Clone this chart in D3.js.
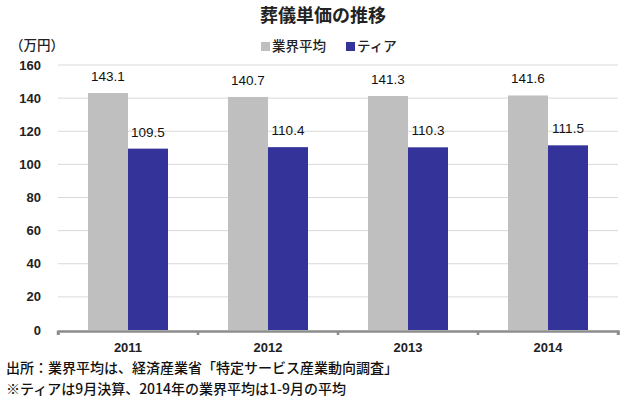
<!DOCTYPE html>
<html>
<head>
<meta charset="utf-8">
<script src="https://cdn.jsdelivr.net/npm/d3@7"></script>
<style>
  body { margin: 0; background: #fff; }
  svg { display: block; }
  .jp { font-family: "Noto Sans CJK JP", sans-serif; }
  .num { font-family: "Liberation Sans", Arial, sans-serif; }
</style>
</head>
<body>
<script>
const years = ['2011', '2012', '2013', '2014']
const seriesNames = ['業界平均', 'ティア']
const industryAvg = [143.1, 140.7, 141.3, 141.6]
const tier = [109.5, 110.4, 110.3, 111.5]
const yTicks = [0, 20, 40, 60, 80, 100, 120, 140, 160]
const colors = ['#bfbfbf', '#333399']

const width = 624
const height = 399
const margin = { top: 65, right: 6, bottom: 69, left: 58 }
const plotW = width - margin.left - margin.right
const plotH = height - margin.top - margin.bottom

const svg = d3.select('body').append('svg')
  .attr('width', width)
  .attr('height', height)

const g = svg.append('g')
  .attr('transform', 'translate(' + margin.left + ',' + margin.top + ')')

const x = d3.scaleBand().domain(years).range([0, plotW]).paddingInner(0).paddingOuter(0)
const inner = d3.scaleBand().domain(seriesNames).range([30, x.bandwidth() - 30])
const y = d3.scaleLinear().domain([0, 160]).range([plotH, 0])

// gridlines
g.append('g')
  .selectAll('line')
  .data(yTicks.filter(d => d > 0))
  .enter()
  .append('line')
  .attr('x1', 0)
  .attr('x2', plotW)
  .attr('y1', d => y(d))
  .attr('y2', d => y(d))
  .attr('stroke', '#d9d9d9')
  .attr('stroke-width', 1)

// y tick labels
g.append('g')
  .selectAll('text')
  .data(yTicks)
  .enter()
  .append('text')
  .attr('class', 'num')
  .attr('x', -17)
  .attr('y', d => y(d))
  .attr('dy', '0.35em')
  .attr('text-anchor', 'end')
  .attr('font-size', 13)
  .attr('font-weight', 'bold')
  .attr('fill', '#222')
  .text(d => d)

const data = years.map((yr, i) => ({ year: yr, values: [industryAvg[i], tier[i]] }))

const groups = g.selectAll('.grp')
  .data(data)
  .enter()
  .append('g')
  .attr('class', 'grp')
  .attr('transform', d => 'translate(' + x(d.year) + ',0)')

groups.selectAll('rect')
  .data(d => d.values.map((v, j) => ({ name: seriesNames[j], v: v, j: j })))
  .enter()
  .append('rect')
  .attr('x', d => inner(d.name))
  .attr('width', inner.bandwidth())
  .attr('y', d => y(d.v))
  .attr('height', d => plotH - y(d.v))
  .attr('fill', d => colors[d.j])

groups.selectAll('text.val')
  .data(d => d.values.map((v, j) => ({ name: seriesNames[j], v: v, j: j })))
  .enter()
  .append('text')
  .attr('class', 'val num')
  .attr('x', d => inner(d.name) + inner.bandwidth() / 2)
  .attr('y', d => y(d.v) - 12)
  .attr('text-anchor', 'middle')
  .attr('font-size', 13.5)
  .attr('fill', '#111')
  .text(d => d.v.toFixed(1))

// x axis
const axisX = d3.axisBottom(x).tickSize(4).tickSizeOuter(4)
const ax = g.append('g')
  .attr('transform', 'translate(0,' + (plotH + 1) + ')')
  .call(axisX)
ax.select('.domain').attr('stroke', '#8c8c8c').attr('stroke-width', 2.5)
ax.selectAll('.tick line').remove()
ax.selectAll('.tick text').remove()
ax.selectAll('.edge')
  .data(x.domain().map(d => x(d)).concat([plotW]))
  .enter()
  .append('line')
  .attr('x1', d => d)
  .attr('x2', d => d)
  .attr('y1', 0)
  .attr('y2', 4)
  .attr('stroke', '#8c8c8c')
  .attr('stroke-width', 2.5)
ax.selectAll('.yr')
  .data(years)
  .enter()
  .append('text')
  .attr('class', 'num')
  .attr('x', d => x(d) + x.bandwidth() / 2)
  .attr('y', 16)
  .attr('dy', '0.35em')
  .attr('text-anchor', 'middle')
  .attr('font-size', 13)
  .attr('font-weight', 'bold')
  .attr('fill', '#222')
  .text(d => d)

// title
svg.append('text')
  .attr('class', 'jp')
  .attr('x', 323)
  .attr('y', 16)
  .attr('dy', '0.35em')
  .attr('text-anchor', 'middle')
  .attr('font-size', 18)
  .attr('font-weight', 'bold')
  .attr('fill', '#222')
  .text('葬儀単価の推移')

// unit
svg.append('text')
  .attr('class', 'jp')
  .attr('x', 10)
  .attr('y', 45)
  .attr('dy', '0.35em')
  .attr('font-size', 13.5)
  .attr('font-weight', 500)
  .attr('fill', '#222')
  .text('（万円）')

// legend
const legendX = [261, 346]
const legend = svg.selectAll('.leg')
  .data(seriesNames)
  .enter()
  .append('g')
  .attr('class', 'leg')
  .attr('transform', (d, i) => 'translate(' + legendX[i] + ',46)')
legend.append('rect')
  .attr('x', 0)
  .attr('y', -4)
  .attr('width', 9)
  .attr('height', 9)
  .attr('fill', (d, i) => colors[i])
legend.append('text')
  .attr('class', 'jp')
  .attr('x', 11)
  .attr('dy', '0.35em')
  .attr('font-size', 13.5)
  .attr('font-weight', 500)
  .attr('fill', '#222')
  .text(d => d)

// footnotes
const notes = ['出所：業界平均は、経済産業省「特定サービス産業動向調査」', '※ティアは9月決算、2014年の業界平均は1-9月の平均']
svg.selectAll('.note')
  .data(notes)
  .enter()
  .append('text')
  .attr('class', 'note jp')
  .attr('x', 6)
  .attr('y', (d, i) => 368.5 + i * 20.5)
  .attr('dy', '0.35em')
  .attr('font-size', 14)
  .attr('font-weight', 500)
  .attr('fill', '#111')
  .text(d => d)
</script>
</body>
</html>
